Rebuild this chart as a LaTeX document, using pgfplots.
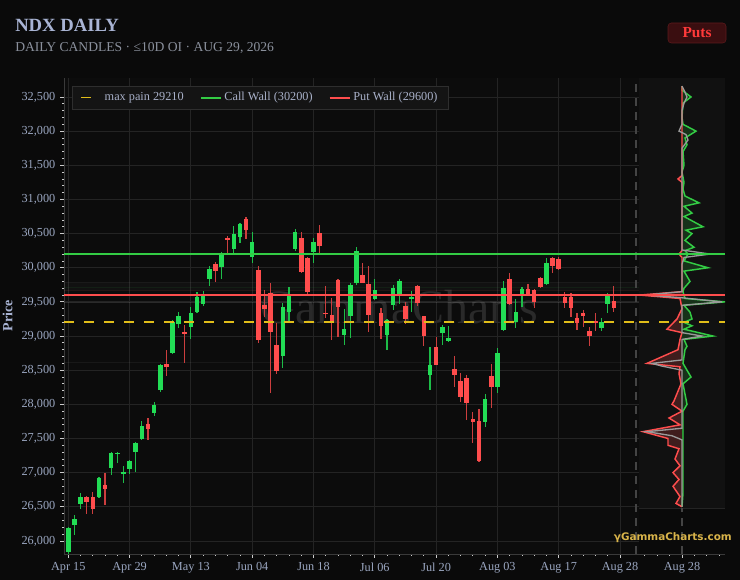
\documentclass[border=0pt]{standalone}
\usepackage{pgfplots}
\usepackage{pgfplotstable}
\pgfplotsset{compat=1.18}
\usepackage{fontspec}
\setmainfont{Liberation Serif}
\newfontfamily\logofont{DejaVu Sans}

\definecolor{figbg}{HTML}{0A0A0A}
\definecolor{plotbg}{HTML}{0C0C0C}
\definecolor{sidebg}{HTML}{111111}
\definecolor{gridc}{HTML}{242424}
\definecolor{spinec}{HTML}{3A3A3A}
\definecolor{tickc}{HTML}{9AA6C0}
\definecolor{titlec}{HTML}{A9B4D4}
\definecolor{subc}{HTML}{8A909C}
\definecolor{cgreen}{HTML}{22DD55}
\definecolor{cred}{HTML}{FF4D4D}
\definecolor{lgreen}{HTML}{33CC44}
\definecolor{lred}{HTML}{FF4D4D}
\definecolor{mpyellow}{rgb}{0.88,0.74,0.10}
\definecolor{wmark}{HTML}{2A2A2A}
\definecolor{gold}{HTML}{D9B44A}
\definecolor{btnbg}{HTML}{3A0E10}
\definecolor{btnborder}{HTML}{5C1A1C}
\definecolor{btntext}{HTML}{FF3A3A}
\definecolor{legbg}{HTML}{141414}
\definecolor{legborder}{HTML}{2E2E2E}
\definecolor{legtext}{HTML}{A8B0C8}
\definecolor{profgray}{HTML}{9A9A9A}
\definecolor{dashc}{HTML}{444444}

\pgfplotstableread{
i o h l c
0 25840 26200 25810 26190
1 26234 26380 26088 26322
2 26542 26700 26470 26644
5 26644 26940 26630 26922
7 27069 27300 26966 27288
8 27274 27300 27142 27288
9 26981 27098 26849 27010
10 27054 27185 26981 27171
11 27303 27450 27010 27434
12 27493 27757 27480 27683
14 27874 28035 27830 27991
15 28210 28590 28180 28576
17 28752 29230 28737 29206
18 29177 29352 29118 29294
20 29133 29425 28957 29338
21 29352 29645 29340 29572
22 29470 29660 29440 29600
23 29836 30026 29733 29982
25 30011 30231 29836 30202
27 30275 30611 30216 30494
28 30450 30650 30363 30641
30 30158 30524 30070 30377
35 28708 29484 28532 29426
36 29352 29718 29191 29616
37 30275 30560 30250 30524
40 30231 30436 30070 30377
45 29016 29396 28870 29104
46 29294 29777 28972 29748
47 29777 30304 29750 30245
50 29543 29836 29530 29674
52 29016 29250 28796 29235
53 29455 29748 29382 29704
54 29601 29836 29470 29806
56 29540 29660 29350 29570
59 28430 28840 28210 28576
61 29045 29162 28870 29133
62 28928 29148 28910 28972
68 27742 28152 27669 28079
70 28254 28825 28167 28752
71 29089 29806 29080 29704
73 29206 29543 29118 29352
74 29587 29718 29425 29689
78 29762 30143 29740 30070
87 29118 29265 29074 29206
88 29470 29630 29338 29616
}\greentab

\pgfplotstableread{
i o h l c
3 26644 26660 26395 26571
4 26644 26717 26395 26468
6 26820 26996 26527 26761
13 27713 27800 27478 27640
16 28590 28796 28415 28547
19 29060 29162 28606 29040
24 30055 30085 29792 29953
26 30430 30460 30190 30400
29 30714 30743 30421 30553
31 29967 30026 28899 28943
32 29455 29674 29279 29396
33 29630 29777 28167 29060
34 28870 29191 28445 28489
38 30436 30524 29930 29938
39 30143 30160 29600 29645
41 30509 30626 30187 30319
42 29340 29733 29265 29320
43 29309 29557 28943 29191
44 29821 29830 28987 29426
48 29894 30070 29770 29777
49 29763 30026 29060 29309
51 29338 29411 28957 29147
55 29440 29499 29177 29250
57 29733 29748 29440 29484
58 29294 29300 28855 29001
60 28840 28986 28570 28576
63 28518 28708 28254 28430
64 28342 28460 28035 28108
65 28386 28430 27771 28020
66 27786 27888 27435 27742
67 27757 27932 27156 27171
69 28415 28591 27947 28254
72 29836 29923 29460 29470
75 29689 29762 29590 29601
76 29674 29690 29410 29499
77 29850 29870 29700 29718
79 30143 30160 29923 30026
80 30128 30150 29970 29982
81 29572 29645 29410 29484
82 29572 29630 29279 29411
83 29265 29338 29090 29191
84 29338 29382 29135 29294
85 29074 29133 28855 29001
86 29220 29338 29074 29200
89 29513 29733 29352 29411
}\redtab

\pgfplotstableread{
x y
0 32660
0 32600
9 32500
1 32410
0 32200
1 32100
14 32000
3 31900
5 31800
1 31700
2 31500
0 31400
2 31250
1 31150
3 31050
17 30950
2 30900
10 30800
2 30750
21 30600
4 30550
10 30500
3 30400
12 30300
3 30250
6 30200
2 30100
26 30000
2 29950
8 29800
2 29700
1 29650
3 29550
43 29500
2 29450
8 29350
10 29250
2 29200
10 29150
2 29100
31 29000
2 28950
5 28850
3 28800
2 28700
1 28600
9 28400
1 28300
3 28150
5 28000
1 27900
1 27600
1 27300
1 27000
1 26700
0 26500
}\callprof

\pgfplotstableread{
x y
0 32660
0 31350
-4 31300
0 31250
0 30250
-3 30200
0 30150
0 29650
-42 29600
-2 29550
0 29400
-5 29250
-15 29100
0 29050
-2 28950
-4 28800
-35 28600
-2 28550
-3 28450
-1 28300
-8 28050
-10 28000
0 27900
-13 27800
-2 27700
-39 27600
-14 27500
-14 27400
-3 27350
-7 27200
-2 27100
-9 27000
-3 26900
-9 26800
-2 26650
-6 26550
0 26500
}\putprof

\pgfplotstableread{
x y
0 32660
3 32570
5 32500
2 32410
0 32300
0 32100
-3 32000
4 31950
6 31870
0 31750
0 30260
28 30200
2 30150
0 30050
0 29650
-36 29600
0 29560
40 29500
0 29450
0 29050
20 29000
0 28950
0 28650
-30 28600
-20 28560
0 28500
0 27650
-35 27600
-10 27540
0 27480
0 26500
}\netprof

\begin{document}
\begin{tikzpicture}
\fill[figbg] (0,0) rectangle (555pt,435pt);

\node[anchor=base west, text=titlec, font=\bfseries\fontsize{14}{16}\selectfont, inner sep=0pt] at (11.25pt,411.5pt) {NDX DAILY};
\node[anchor=base west, text=subc, font=\fontsize{10.2}{12}\selectfont, inner sep=0pt] at (11.25pt,396.5pt) {DAILY CANDLES · ≤10D OI · AUG 29, 2026};

\draw[fill=btnbg, draw=btnborder, rounded corners=2.5pt] (501pt,402.75pt) rectangle (544.5pt,417.75pt);
\node[text=btntext, font=\bfseries\fontsize{11.5}{13}\selectfont] at (522.75pt,410.25pt) {Puts};

\begin{axis}[
  at={(48pt,19.5pt)}, anchor=south west, scale only axis,
  width=431.25pt, height=357pt,
  xmin=-0.7, xmax=93.1, ymin=25809, ymax=32778,
  axis background/.style={fill=plotbg},
  axis x line*=bottom, axis y line*=left,
  axis line style={draw=spinec, line width=0.6pt},
  x axis line style={-}, y axis line style={-},
  xtick={0,10,...,90},
  xticklabels={Apr 15,Apr 29,May 13,Jun 04,Jun 18,Jul 06,Jul 20,Aug 03,Aug 17,Aug 28},
  minor x tick num=4,
  ytick={26000,26500,...,32500}, minor y tick num=4,
  scaled y ticks=false,
  grid=major, major grid style={draw=gridc, line width=0.6pt},
  minor grid style={draw=none},
  tick align=outside, major tick length=3pt, minor tick length=1.5pt,
  every tick/.style={draw=white!80!black, line width=0.6pt},
  every minor tick/.style={draw=white!80!black, line width=0.6pt},
  tick label style={text=tickc, font=\fontsize{9.2}{10}\selectfont},
  /pgf/number format/assume math mode=true,
  yticklabel style={/pgf/number format/fixed, /pgf/number format/1000 sep={,}},
  ylabel={\textbf{Price}},
  ylabel style={text=titlec, font=\fontsize{10.5}{12}\selectfont},
  legend columns=3,
  legend style={at={(rel axis cs:0.014,0.983)}, anchor=north west,
    fill=legbg, draw=legborder, text=legtext, font=\fontsize{9.2}{11}\selectfont,
    inner xsep=6pt, inner ysep=2.5pt,
    /tikz/every even column/.append style={column sep=10pt}},
  legend image code/.code={\draw[#1] (0pt,0pt) -- (15pt,0pt);},
]
\node[text=wmark, font=\fontsize{36}{40}\selectfont] at (axis cs:54,29420) {GammaCharts};

\fill[white, fill opacity=0.025] (axis cs:-1,29660) rectangle (axis cs:94,29780);
\addplot[forget plot, draw=white, draw opacity=0.06, line width=0.5pt] coordinates {(-1,29780) (94,29780)};
\addplot[forget plot, draw=lgreen, draw opacity=0.08, line width=0.5pt] coordinates {(-1,29720) (94,29720)};
\addplot[forget plot, draw=lred, draw opacity=0.08, line width=0.5pt] coordinates {(-1,29670) (94,29670)};
\addplot[forget plot, draw=white, draw opacity=0.13, line width=0.6pt] coordinates {(-1,29490) (94,29490)};
\addplot[forget plot, draw=white, draw opacity=0.05, line width=0.5pt] coordinates {(-1,28620) (94,28620)};

\draw[dashc, line width=0.9pt, dash pattern=on 6pt off 4.5pt] (axis cs:92.6,25809) -- (axis cs:92.6,32778);

% wicks
\addplot[forget plot, draw=none, mark=none, error bars/.cd, y dir=both, y explicit, error mark=none,
  error bar style={draw=cgreen!85!black, line width=0.9pt}]
  table[x=i, y expr={(\thisrow{h}+\thisrow{l})/2}, y error expr={(\thisrow{h}-\thisrow{l})/2}] {\greentab};
\addplot[forget plot, draw=none, mark=none, error bars/.cd, y dir=both, y explicit, error mark=none,
  error bar style={draw=cred!80!black, line width=0.9pt}]
  table[x=i, y expr={(\thisrow{h}+\thisrow{l})/2}, y error expr={(\thisrow{h}-\thisrow{l})/2}] {\redtab};
% bodies
\addplot[forget plot, draw=none, mark=none, error bars/.cd, y dir=both, y explicit, error mark=none,
  error bar style={draw=cgreen, line width=3.4pt}]
  table[x=i, y expr={(\thisrow{o}+\thisrow{c})/2}, y error expr={max(abs(\thisrow{c}-\thisrow{o})/2,10)}] {\greentab};
\addplot[forget plot, draw=none, mark=none, error bars/.cd, y dir=both, y explicit, error mark=none,
  error bar style={draw=cred, line width=3.4pt}]
  table[x=i, y expr={(\thisrow{o}+\thisrow{c})/2}, y error expr={max(abs(\thisrow{c}-\thisrow{o})/2,10)}] {\redtab};

\addplot[color=mpyellow, solid, line width=1.3pt, dash pattern=on 7.5pt off 7.5pt] coordinates {(-0.7,29210) (93.1,29210)};
\addlegendentry{max pain 29210}
\addplot[color=lgreen, solid, line width=1.5pt] coordinates {(-0.7,30200) (93.1,30200)};
\addlegendentry{Call Wall (30200)}
\addplot[color=lred, solid, line width=1.5pt] coordinates {(-0.7,29600) (93.1,29600)};
\addlegendentry{Put Wall (29600)}
\end{axis}

\begin{axis}[
  at={(479.25pt,19.5pt)}, anchor=south west, scale only axis,
  width=64.5pt, height=357pt,
  xmin=-43, xmax=43, ymin=25809, ymax=32778,
  axis x line*=bottom, axis y line=none,
  axis line style={draw=spinec, line width=0.6pt},
  x axis line style={-},
  xtick={0}, xticklabels={Aug 28},
  minor xtick={-37.2,-24.8,-12.4,12.4,24.8,37.2},
  tick align=outside, major tick length=3pt, minor tick length=1.5pt,
  every tick/.style={draw=white!80!black, line width=0.6pt},
  every minor tick/.style={draw=white!80!black, line width=0.6pt},
  tick label style={text=tickc, font=\fontsize{9.2}{10}\selectfont},
]
\fill[sidebg] (axis cs:-43,26483) rectangle (axis cs:43,32778);
\draw[gridc, line width=0.6pt] (axis cs:-43,26483) -- (axis cs:43,26483);
\draw[dashc, line width=0.9pt, dash pattern=on 6pt off 4.5pt] (axis cs:0,25809) -- (axis cs:0,26483);
\addplot[forget plot, draw=lgreen, line width=1.1pt, fill=lgreen, fill opacity=0.18] table[x=x,y=y] {\callprof};
\addplot[forget plot, draw=lred, line width=1.1pt, fill=lred, fill opacity=0.2] table[x=x,y=y] {\putprof};
\addplot[forget plot, draw=profgray, line width=1.0pt] table[x=x,y=y] {\netprof};
\addplot[forget plot, color=lgreen, line width=1.5pt] coordinates {(-43,30200) (43,30200)};
\addplot[forget plot, color=lred, line width=1.5pt] coordinates {(-43,29600) (43,29600)};
\addplot[forget plot, color=mpyellow, line width=1.3pt, dash pattern=on 7.5pt off 7.5pt] coordinates {(-43,29210) (43,29210)};
\end{axis}

\node[anchor=east, text=gold, font=\logofont\bfseries\fontsize{7.8}{9}\selectfont, inner sep=0pt] at (549pt,31.5pt) {γGammaCharts.com};

\pgfresetboundingbox
\path[use as bounding box] (0,0) rectangle (555pt,435pt);
\end{tikzpicture}
\end{document}
